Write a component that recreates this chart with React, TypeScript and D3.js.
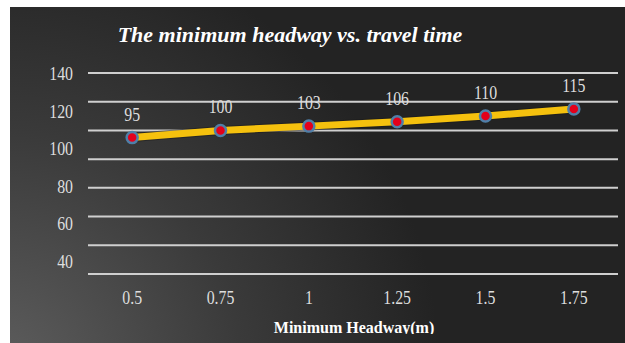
import React from "react";
import * as d3 from "d3";

const headways = ["0.5", "0.75", "1", "1.25", "1.5", "1.75"];
const travelTimes = [95, 100, 103, 106, 110, 115];
const gridValues = [0, 20, 40, 60, 80, 100, 120, 140];
const yTickLabels = ["140", "120", "100", "80", "60", "40"];

const W = 625;
const H = 343;
const panel = { x: 10, y: 7 };
const plot = { left: 88, right: 618, top: 73, bottom: 274 };

const serif = "'Liberation Serif', 'DejaVu Serif', serif";

export default function App() {
  const x = d3
    .scaleBand<string>()
    .domain(headways)
    .range([plot.left, plot.right])
    .paddingInner(0)
    .paddingOuter(0);
  const cx = (h: string) => (x(h) as number) + x.bandwidth() / 2;

  const y = d3.scaleLinear().domain([0, 140]).range([plot.bottom, plot.top]);

  // tick captions sit on their own evenly spaced track down the left side
  const yLabel = d3.scalePoint<string>().domain(yTickLabels).range([74, 262]);

  const pts = headways.map((h, i) => [cx(h), y(travelTimes[i])] as [number, number]);
  const line = d3.line<[number, number]>()(pts) as string;

  const Num = ({ x: tx, y: ty, anchor, children }: any) => (
    <text
      transform={`translate(${tx},${ty}) scale(0.88,1)`}
      textAnchor={anchor}
      fill="#dedede"
      fontFamily={serif}
      fontSize={18}
    >
      {children}
    </text>
  );

  return (
    <svg
      width={W}
      height={H}
      style={{ position: "absolute", left: 0, top: 0, display: "block" }}
    >
      <defs>
        <radialGradient
          id="bg"
          gradientUnits="userSpaceOnUse"
          cx={0}
          cy={H + 30}
          r={440}
        >
          <stop offset="0" stopColor="#5e5e5e" />
          <stop offset="0.55" stopColor="#3a3a3a" />
          <stop offset="1" stopColor="#232323" />
        </radialGradient>
        <clipPath id="chartClip">
          <rect x={panel.x} y={panel.y} width={W - panel.x} height={334 - panel.y} />
        </clipPath>
      </defs>
      <rect x={0} y={0} width={W} height={H} fill="#ffffff" />
      <rect x={panel.x} y={panel.y} width={W - panel.x} height={H - panel.y} fill="url(#bg)" />

      <text
        x={290}
        y={42}
        textAnchor="middle"
        fill="#ffffff"
        fontFamily={serif}
        fontStyle="italic"
        fontWeight="bold"
        fontSize={22}
      >
        The minimum headway vs. travel time
      </text>

      {gridValues.map((v) => (
        <line
          key={v}
          x1={plot.left}
          x2={plot.right}
          y1={y(v)}
          y2={y(v)}
          stroke="#cfcfcf"
          strokeWidth={2}
        />
      ))}

      {yTickLabels.map((t) => (
        <Num key={t} x={73} y={(yLabel(t) as number) + 6} anchor="end">
          {t}
        </Num>
      ))}

      {headways.map((h) => (
        <Num key={h} x={cx(h)} y={304} anchor="middle">
          {h}
        </Num>
      ))}

      <path d={line} fill="none" stroke="#1a1a1a" strokeOpacity={0.5} strokeWidth={9} />
      <path d={line} fill="none" stroke="#f5c10e" strokeWidth={7} />

      {pts.map(([px, py], i) => (
        <g key={i}>
          <circle cx={px} cy={py} r={5.5} fill="#e3001b" stroke="#4f7fa8" strokeWidth={2.5} />
          <Num x={px} y={py - 17} anchor="middle">
            {travelTimes[i]}
          </Num>
        </g>
      ))}

      <g clipPath="url(#chartClip)">
        <text
          x={354}
          y={333}
          textAnchor="middle"
          fill="#ffffff"
          fontFamily={serif}
          fontWeight="bold"
          fontSize={16}
        >
          Minimum Headway(m)
        </text>
      </g>
    </svg>
  );
}
